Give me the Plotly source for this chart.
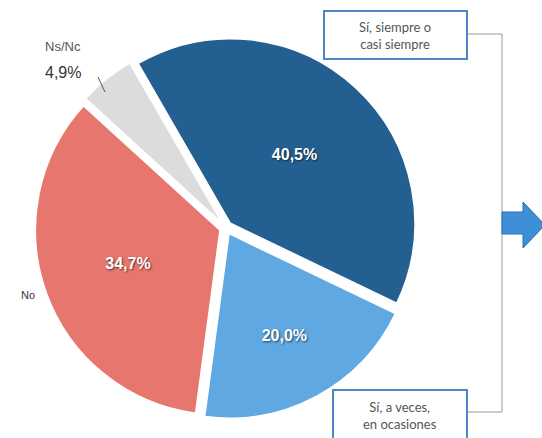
import plotly.graph_objects as go

categories = ["Sí, siempre o casi siempre", "Sí, a veces, en ocasiones", "No", "Ns/Nc"]
values = [40.5, 20.0, 34.7, 4.9]
colors = ["#245f92", "#5fa8e2", "#e6766e", "#dcdcdc"]

W, H = 542, 438
def px(x): return x / W
def py(y): return 1 - y / H

fig = go.Figure()
fig.add_trace(go.Pie(
    labels=categories, values=values, sort=False, direction="clockwise",
    rotation=-30,
    pull=[0.035, 0.035, 0.035, 0.035],
    marker=dict(colors=colors, line=dict(color="white", width=1.5)),
    texttemplate=["%{value:.1f}%", "%{value:.1f}%", "%{value:.1f}%", ""],
    textposition=["inside", "inside", "inside", "none"],
    insidetextorientation="horizontal",
    textfont=dict(family="Liberation Sans", size=16, color="white", weight="bold",
                  shadow="1px 1px 2px rgba(0,0,0,0.6)"),
    showlegend=False, hoverinfo="label+percent",
    domain=dict(x=[px(226 - 191), px(226 + 191)], y=[py(228 + 191), py(228 - 191)]),
))

shapes = []
ann = []
line_col = "#9a9a9a"
# bracket
shapes.append(dict(type="line", xref="paper", yref="paper", x0=px(467), y0=py(34), x1=px(502), y1=py(34), line=dict(color=line_col, width=1)))
shapes.append(dict(type="line", xref="paper", yref="paper", x0=px(502), y0=py(34), x1=px(502), y1=py(412), line=dict(color=line_col, width=1)))
shapes.append(dict(type="line", xref="paper", yref="paper", x0=px(467), y0=py(412), x1=px(502), y1=py(412), line=dict(color=line_col, width=1)))
# boxes
shapes.append(dict(type="rect", xref="paper", yref="paper", x0=px(324), y0=py(11), x1=px(467), y1=py(59),
                   line=dict(color="#4f86c6", width=2), fillcolor="white"))
shapes.append(dict(type="rect", xref="paper", yref="paper", x0=px(333), y0=py(390), x1=px(467), y1=py(445),
                   line=dict(color="#4f86c6", width=2), fillcolor="white"))
# arrow
path = "M {} {} L {} {} L {} {} L {} {} L {} {} L {} {} L {} {} Z".format(
    px(502), py(212), px(523), py(212), px(523), py(202), px(545), py(225),
    px(523), py(248), px(523), py(234), px(502), py(234))
shapes.append(dict(type="path", xref="paper", yref="paper", path=path,
                   fillcolor="#3f8fd6", line=dict(color="#2f6fae", width=1)))
# Ns/Nc leader
shapes.append(dict(type="line", xref="paper", yref="paper", x0=px(98), y0=py(77), x1=px(105), y1=py(92), line=dict(color="#555555", width=1)))

box_font = dict(family="Lato", size=13, color="#555555")
ann.append(dict(xref="paper", yref="paper", x=px(395), y=py(35), text="Sí, siempre o<br>casi siempre",
                showarrow=False, font=box_font, xanchor="center", yanchor="middle"))
ann.append(dict(xref="paper", yref="paper", x=px(400), y=py(415), text="Sí, a veces,<br>en ocasiones",
                showarrow=False, font=box_font, xanchor="center", yanchor="middle"))
ann.append(dict(xref="paper", yref="paper", x=px(28), y=py(295), text="No",
                showarrow=False, font=dict(family="Liberation Sans", size=11, color="#333344"),
                xanchor="center", yanchor="middle"))
ann.append(dict(xref="paper", yref="paper", x=px(63), y=py(46), text="Ns/Nc",
                showarrow=False, font=dict(family="Liberation Sans", size=13, color="#555555"),
                xanchor="center", yanchor="middle"))
ann.append(dict(xref="paper", yref="paper", x=px(63), y=py(73),
                text=("%.1f%%" % values[3]).replace(".", ","),
                showarrow=False, font=dict(family="Liberation Sans", size=16, color="#333333"),
                xanchor="center", yanchor="middle"))

fig.update_layout(width=W, height=H, margin=dict(l=0, r=0, t=0, b=0),
                  paper_bgcolor="white", plot_bgcolor="white",
                  separators=",.", shapes=shapes, annotations=ann)
fig.write_html("out.html", config={"displayModeBar": False},
               post_script="document.body.style.margin='0';document.body.style.overflow='hidden';")
